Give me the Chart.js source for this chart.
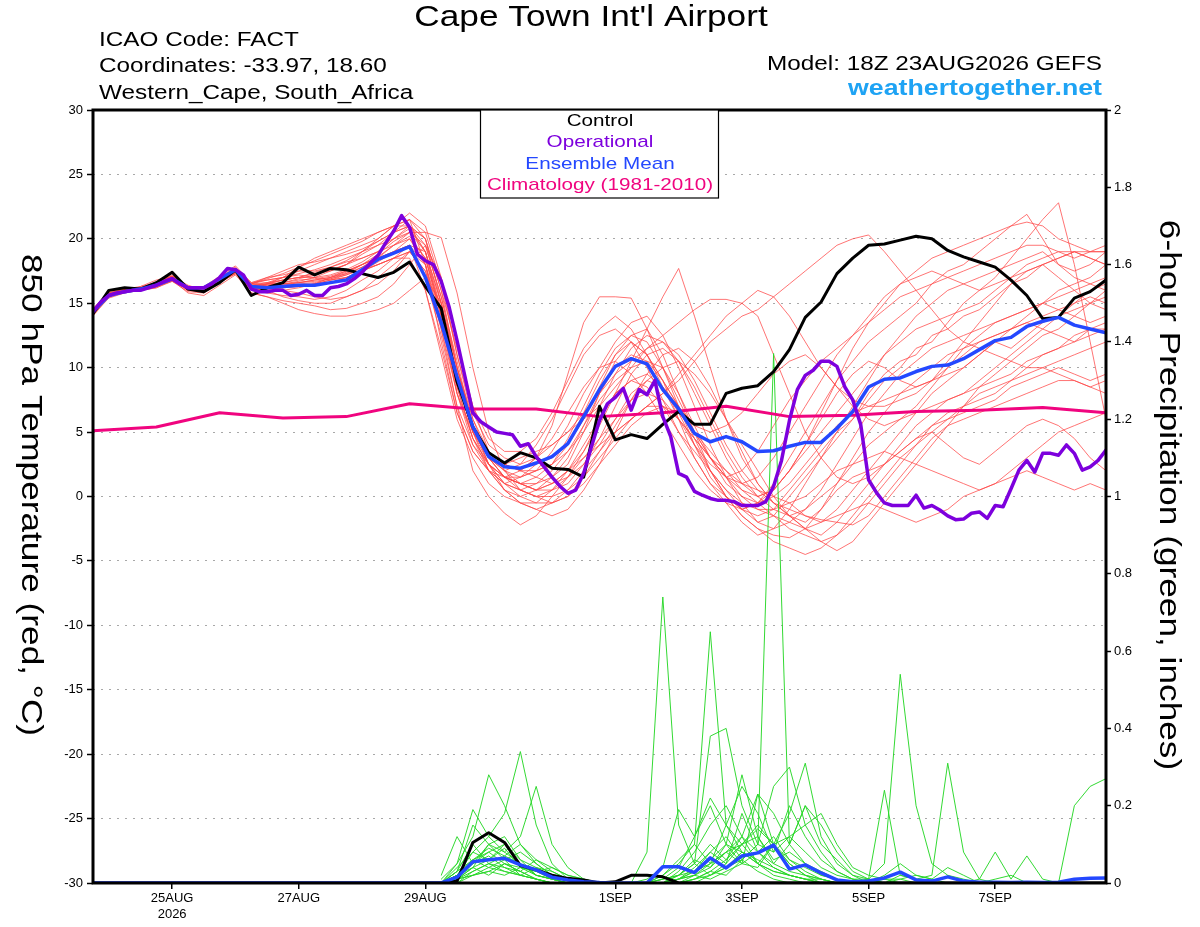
<!DOCTYPE html>
<html><head><meta charset="utf-8">
<script src="https://cdn.jsdelivr.net/npm/chart.js@4.4.1/dist/chart.umd.min.js"></script>
<style>html,body{margin:0;padding:0;background:#fff;} #wrap{width:1200px;height:927px;}</style>
</head><body><div id="wrap"><canvas id="c" width="1200" height="927"></canvas></div>
<script>
const FONT = "'Liberation Sans', Arial, Helvetica, sans-serif";
// x axis: hours after 18Z 23AUG2026
const tickHours = [30, 78, 126, 198, 246, 294, 342];
const tickLabels = ['25AUG', '27AUG', '29AUG', '1SEP', '3SEP', '5SEP', '7SEP'];
const tickYear = '2026';
const STEP6 = 6, STEP3 = 3, STEP24 = 24, PRECIP_START = 132;

// Control (black) 850 hPa temperature, 6-hourly
const controlTemp = [14.2,16.0,16.2,16.1,16.6,17.4,16.1,15.9,16.6,17.6,
 15.6,16.2,16.6,17.8,17.2,17.7,17.6,17.3,17.0,17.4,
 18.2,16.3,14.6,8.9,5.4,3.4,2.6,3.4,3.0,2.2,
 2.1,1.5,7.0,4.4,4.8,4.5,5.6,6.6,5.6,5.6,
 8.0,8.4,8.6,9.7,11.4,13.9,15.1,17.3,18.5,19.5,
 19.6,19.9,20.2,20.0,19.1,18.6,18.2,17.8,16.8,15.6,
 13.8,13.9,15.4,15.9,16.8];
// Ensemble mean (blue), 6-hourly
const meanTemp = [14.35,15.6,15.9,16.1,16.4,16.9,16.2,16.2,16.9,17.6,
 16.3,16.2,16.3,16.4,16.4,16.6,16.8,17.6,18.4,18.9,
 19.4,17.0,13.5,9.3,5.4,3.1,2.3,2.2,2.6,3.1,
 4.1,6.2,8.3,10.1,10.7,10.3,8.3,6.8,4.9,4.25,
 4.65,4.25,3.5,3.55,3.9,4.2,4.2,5.3,6.6,8.5,
 9.1,9.2,9.7,10.1,10.2,10.7,11.4,12.1,12.35,13.2,
 13.6,13.9,13.3,13.0,12.7];
// Operational (purple), 3-hourly
const opTemp = [14.35,15.1,15.6,15.8,15.9,16.0,16.0,16.2,16.4,16.7,
 16.9,16.5,16.2,16.2,16.2,16.5,17.0,17.7,17.6,17.2,
 16.1,15.9,15.9,16.0,16.0,15.6,15.7,16.0,15.6,15.6,
 16.2,16.3,16.5,16.9,17.4,18.1,18.7,19.7,20.6,21.8,
 20.9,18.8,18.3,18.0,16.7,14.7,12.1,9.3,6.5,5.8,
 5.4,5.0,4.9,4.8,3.9,4.1,3.1,2.3,1.5,0.8,
 0.25,0.5,1.8,3.9,5.9,7.2,7.7,8.4,6.7,8.3,
 7.9,9.0,6.2,4.65,1.8,1.5,0.4,0.1,-0.15,-0.3,
 -0.3,-0.4,-0.7,-0.7,-0.7,-0.4,0.8,2.8,5.9,8.3,
 9.4,9.8,10.5,10.5,10.1,8.5,7.5,5.6,1.3,0.3,
 -0.5,-0.7,-0.7,-0.7,0.1,-0.9,-0.7,-1.05,-1.5,-1.8,
 -1.75,-1.3,-1.2,-1.7,-0.7,-0.8,0.6,2.05,2.8,1.9,
 3.35,3.35,3.2,4.0,3.35,2.05,2.3,2.8,3.6];
// Climatology 1981-2010 (pink), daily
const climTemp = [5.1,5.4,6.5,6.1,6.2,7.2,6.8,6.8,6.2,6.5,7.0,6.2,6.3,6.6,6.7,6.9,6.5];

// Ensemble members (red), 6-hourly
const m01 = [14.0,15.5,16.0,16.2,16.6,17.2,16.3,15.8,16.6,17.4, 16.0,16.5,17.0,17.5,18.0,18.5,19.0,19.5,20.0,21.0, 22.0,21.0,17.0,11.0,6.0,3.0,1.5,1.0,0.5,1.5, 2.5,5.0,8.0,10.5,12.0,11.0,9.0,6.0,3.0,1.0, 0.0,-1.0,-1.5,-1.0,0.5,2.0,3.5,5.0,6.0,7.5, 9.0,10.0,11.5,12.0,13.5,15.0,16.0,17.0,18.5,20.0, 21.5,22.8,18.0,12.0,6.0];
const m02 = [14.5,15.8,16.1,16.0,16.3,16.8,15.8,15.6,16.4,17.2, 15.8,15.5,15.2,15.0,14.8,14.5,14.6,15.0,15.5,16.5, 18.0,19.5,17.0,12.0,7.0,3.5,2.5,2.0,3.0,5.5, 9.5,13.5,15.5,15.5,15.4,13.0,10.0,7.0,4.0,2.0, 0.5,-1.0,-2.0,-1.5,0.0,1.5,3.0,4.5,6.0,8.0, 9.5,10.5,11.0,12.5,13.0,14.0,14.5,15.5,16.5,17.0, 18.0,18.5,19.0,18.5,18.0];
const m03 = [14.2,15.6,15.9,16.2,16.5,17.0,16.2,16.2,17.0,17.7, 16.3,16.5,16.8,17.0,17.3,17.5,18.0,18.8,19.5,20.5, 21.0,19.0,14.0,8.0,4.0,2.0,0.5,0.0,0.5,1.0, 2.0,3.5,5.5,8.0,10.5,13.0,15.5,17.7,14.0,10.0, 6.0,3.0,1.0,-0.5,-1.5,-2.5,-3.0,-2.0,-0.5,1.0, 2.5,4.0,5.5,6.5,7.5,8.0,9.0,10.0,11.0,12.0, 13.0,14.0,14.5,15.0,15.5];
const m04 = [14.4,15.7,16.0,16.0,16.4,16.9,16.0,16.1,16.9,17.6, 16.1,16.0,15.5,15.2,15.0,15.0,15.5,16.0,17.0,18.0, 19.0,18.0,13.0,7.0,2.0,0.0,-1.3,-2.2,-1.5,0.0, 1.5,3.0,4.5,6.0,7.5,8.0,7.5,6.0,4.5,3.0, 2.0,1.0,0.5,0.0,-0.5,-1.5,-2.0,-1.0,0.5,2.0, 3.5,5.0,6.5,8.0,9.0,10.0,11.0,12.0,11.5,12.5, 13.5,14.0,15.0,16.0,16.5];
const m05 = [14.1,15.4,15.8,16.3,16.8,17.1,16.4,16.0,16.7,17.3, 16.5,17.0,17.2,17.5,17.5,17.8,18.2,18.5,19.0,19.5, 20.5,20.5,20.1,15.8,10.0,5.0,2.0,0.5,0.0,-0.5, 0.0,1.5,3.5,5.5,7.5,9.0,10.0,10.5,9.5,8.0, 6.0,4.0,2.0,0.0,-1.5,-2.5,-3.5,-4.2,-3.5,-2.0, -0.5,1.0,2.5,4.0,5.5,7.0,8.5,9.5,10.5,11.5, 12.5,13.0,14.0,15.0,16.0];
const m06 = [14.3,15.6,16.0,16.1,16.3,16.7,16.1,16.3,17.1,17.9, 16.6,16.8,17.0,17.2,17.0,16.8,17.0,17.5,18.0,18.5, 19.0,17.5,13.0,8.0,5.0,3.0,2.5,3.0,3.5,4.0, 5.0,6.0,7.0,8.5,10.0,11.5,12.5,13.5,14.5,15.3, 15.3,15.0,14.0,11.0,8.0,5.0,3.0,1.5,1.0,1.5, 2.5,3.5,4.5,5.5,6.5,7.0,7.5,8.0,9.0,10.0, 11.0,11.5,12.0,13.0,13.5];
const m07 = [14.6,15.9,16.2,16.0,16.2,16.8,16.0,15.9,16.8,17.6, 16.4,16.6,17.0,17.8,18.5,19.0,19.5,20.0,20.5,21.0, 21.5,18.0,12.0,6.5,3.5,2.0,1.0,1.5,2.5,3.0, 4.0,6.0,8.5,11.0,12.5,13.0,11.0,8.0,5.0,2.0, 0.0,-1.0,-0.5,1.0,3.0,5.0,7.0,9.0,10.5,12.0, 13.0,14.0,15.0,16.5,17.5,18.0,19.0,20.0,21.0,21.9, 20.0,18.0,17.0,16.5,16.0];
const m08 = [14.2,15.6,16.0,16.1,16.5,17.0,16.2,16.0,16.6,17.3, 16.2,16.0,16.0,15.8,15.5,15.3,15.5,16.0,16.5,17.5, 19.0,18.5,14.0,9.0,5.0,3.5,2.0,1.0,0.5,0.5, 1.0,2.5,4.0,6.0,8.0,9.0,8.5,7.0,5.0,3.0, 1.5,0.0,-1.0,-1.5,-2.0,-2.5,-2.0,-1.5,-1.0,-0.5, -1.0,-1.5,-2.0,-1.5,-1.0,0.0,0.5,1.0,1.5,2.0, 1.5,1.0,0.5,1.0,0.5];
const m09 = [14.3,15.7,15.9,16.2,16.6,17.1,16.3,16.0,16.7,17.5, 16.3,16.4,16.5,16.7,17.0,17.5,18.0,19.0,20.0,21.0, 21.5,20.0,15.0,9.0,5.0,3.0,2.0,2.5,4.0,6.0, 8.5,11.0,12.5,13.0,12.0,10.0,7.5,5.0,3.0,1.0, -0.5,-2.0,-3.0,-2.5,-1.0,1.0,3.0,5.0,7.0,9.0, 11.0,12.5,14.0,15.0,16.0,16.5,17.0,17.5,18.0,18.5, 19.0,18.0,17.5,18.0,19.0];
const m10 = [14.4,15.5,15.8,16.0,16.4,16.9,16.1,16.2,16.9,17.6, 16.3,16.3,16.5,16.6,16.8,17.0,17.3,17.8,18.5,19.5, 20.0,18.5,14.5,9.5,5.5,3.0,1.5,1.0,1.0,1.5, 3.0,5.5,7.5,9.0,10.0,10.5,10.0,8.0,5.5,3.0, 1.0,0.0,-0.5,0.0,1.0,2.5,4.0,5.5,6.5,7.0, 7.5,8.0,8.5,9.0,9.5,10.0,11.0,12.0,13.0,14.0, 15.0,16.0,16.5,17.0,18.0];
const m11 = [14.3,15.6,16.1,16.1,16.4,16.9,16.2,16.1,16.8,17.6, 16.4,16.3,16.0,16.2,16.5,17.0,17.5,18.0,18.5,19.0, 19.5,16.0,11.0,6.0,3.0,1.0,0.0,-0.5,-0.5,0.5, 2.0,4.0,6.0,8.0,9.0,9.5,8.5,6.5,4.0,1.5, 0.0,-1.5,-2.5,-3.5,-4.0,-4.5,-4.0,-3.0,-1.5,0.0, 1.5,3.0,4.0,5.0,6.0,7.0,8.0,8.5,9.0,9.5, 10.0,10.5,11.0,11.5,12.0];
const m12 = [14.5,15.7,16.0,16.2,16.5,17.0,16.1,16.0,16.9,17.7, 16.2,16.4,16.6,16.9,17.2,17.6,18.0,18.5,19.0,20.0, 20.5,19.0,15.0,10.0,6.0,3.5,2.5,2.0,2.0,2.5, 3.5,5.0,7.0,9.5,11.5,12.5,12.0,10.5,8.0,5.5, 3.0,1.0,0.0,0.5,2.0,4.0,6.5,9.0,11.5,13.5, 15.0,16.5,17.5,18.5,19.0,19.5,20.0,20.5,21.0,21.3, 21.0,20.0,19.5,19.0,19.0];
const m13 = [14.2,15.5,15.9,16.0,16.3,16.8,16.0,15.9,16.7,17.4, 16.1,16.2,16.4,16.4,16.5,16.8,17.2,17.8,18.5,19.0, 19.5,17.0,12.5,7.0,4.0,2.5,1.5,1.5,2.0,2.5, 4.0,6.5,9.0,11.0,12.0,11.0,9.0,7.0,5.5,5.0, 5.5,6.5,8.0,9.5,10.5,11.0,10.0,8.5,7.0,6.0, 5.5,6.0,7.0,8.5,10.0,11.5,12.5,13.5,14.0,14.5, 15.0,14.5,14.0,13.5,14.0];
const m14 = [14.4,15.8,16.1,16.1,16.4,16.9,16.1,16.1,16.9,17.5, 16.3,16.2,16.3,16.5,16.6,16.9,17.3,18.0,18.8,19.8, 20.5,19.5,15.5,10.5,5.5,2.5,0.5,-0.5,-1.0,-0.5, 0.5,2.0,3.5,5.0,6.0,7.0,8.0,9.0,10.5,12.0, 13.0,14.0,14.5,15.5,16.5,17.5,18.5,19.5,20.0,20.3, 19.0,17.5,16.0,14.5,13.0,12.0,11.5,11.0,10.5,10.0, 10.0,9.5,9.0,8.5,8.0];
const m15 = [14.3,15.6,16.0,16.0,16.3,16.8,16.2,16.2,16.8,17.5, 16.4,16.5,16.6,16.8,16.9,17.1,17.5,18.0,18.5,19.0, 19.5,18.0,14.0,9.0,5.5,3.5,2.5,2.0,1.5,1.0, 1.5,2.5,4.5,7.0,9.5,11.0,11.5,10.5,8.5,6.0, 3.5,1.5,0.0,-1.0,-1.5,-1.0,0.0,1.0,2.5,4.0, 5.0,6.0,6.5,7.0,7.5,8.0,8.5,9.0,9.5,10.5, 11.0,11.5,12.5,13.0,13.0];
const m16 = [14.5,15.7,16.1,16.3,16.6,17.0,16.3,16.1,16.7,17.4, 16.1,16.0,16.2,16.3,16.5,16.8,17.0,17.5,18.0,18.5, 19.0,17.5,13.5,8.5,4.5,2.0,1.0,0.5,0.0,0.5, 1.5,3.5,6.0,8.0,9.0,8.5,7.0,5.0,3.5,2.0, 0.5,-0.5,-1.0,-1.0,-0.5,0.0,1.0,2.0,2.5,3.0, 3.5,3.0,2.5,2.0,1.5,1.0,0.5,1.0,2.0,3.0, 4.0,5.0,5.5,6.0,6.5];
const m17 = [14.1,15.5,15.9,16.1,16.5,17.1,16.2,16.0,16.8,17.6, 16.5,16.8,17.0,17.3,17.6,18.0,18.5,19.0,19.5,20.0, 20.8,19.0,14.5,9.0,5.0,2.5,1.5,1.0,1.5,2.5, 4.5,7.0,9.5,11.5,12.5,12.0,10.0,7.5,5.0,3.0, 1.5,1.0,1.5,3.0,5.0,7.0,9.0,11.0,12.5,14.0, 15.5,16.5,17.0,17.5,17.0,16.5,16.0,16.5,17.0,17.5, 18.0,18.5,19.0,18.5,18.0];
const m18 = [14.3,15.6,15.9,16.0,16.2,16.7,15.9,15.8,16.6,17.3, 15.8,15.5,15.0,14.5,14.2,14.0,14.0,14.2,14.5,15.0, 16.0,17.0,15.0,10.0,5.5,2.5,1.0,0.0,-0.5,-0.5, 0.0,1.0,2.5,4.0,5.5,6.5,7.0,6.5,5.0,3.5, 2.0,0.5,-0.5,-1.5,-2.5,-3.0,-3.5,-3.0,-2.0,-0.5, 1.0,2.5,4.0,5.5,6.0,6.5,7.0,7.5,8.5,9.0, 9.5,10.0,9.5,9.0,9.5];
const m19 = [14.4,15.8,16.1,16.1,16.4,16.9,16.1,16.2,17.0,17.8, 16.5,16.6,16.8,17.0,17.0,17.2,17.6,18.2,19.0,20.0, 21.0,20.0,16.0,10.0,5.5,3.0,2.0,1.5,2.0,3.5, 5.5,8.0,10.0,12.0,13.5,14.0,12.5,10.0,7.0,4.0, 1.5,-0.5,-2.0,-2.5,-2.0,-1.0,0.5,2.5,4.5,6.5, 8.0,9.5,10.5,11.5,12.0,12.5,13.0,13.5,14.0,14.5, 15.0,15.5,16.0,16.5,17.0];
const m20 = [14.2,15.6,16.0,16.2,16.6,17.1,16.3,16.1,16.8,17.5, 16.3,16.5,16.8,17.0,17.4,17.8,18.3,19.0,19.8,20.5, 21.5,20.5,16.5,11.0,6.5,4.0,3.0,2.5,3.0,4.5, 6.5,8.5,10.0,10.5,9.5,8.0,6.0,4.0,2.0,0.5, -0.5,-1.0,-0.5,0.5,2.0,3.5,5.0,6.5,8.0,9.5, 11.0,12.0,13.0,13.5,14.0,14.5,15.0,16.0,17.0,18.0, 18.5,19.0,19.0,19.0,19.0];
const m21 = [14.3,15.7,16.0,16.1,16.4,16.9,16.0,16.0,16.8,17.5, 16.0,15.8,15.6,15.5,15.3,15.5,16.0,16.8,17.5,18.5, 19.5,19.0,15.0,9.5,5.0,2.0,0.5,-0.5,-1.0,-1.5, -1.0,0.5,2.5,5.0,7.5,9.5,11.0,11.5,10.5,8.5, 6.0,3.5,1.0,-0.5,-1.5,-2.0,-1.0,0.5,1.5,2.0, 2.5,3.5,4.5,5.0,4.0,3.0,2.5,3.5,4.5,5.5, 6.0,5.5,4.5,3.0,2.0];
const m22 = [14.4,15.6,15.9,16.2,16.5,17.0,16.2,16.1,16.9,17.6, 16.6,17.0,17.5,18.0,18.2,18.5,18.8,19.2,19.8,20.5, 21.0,20.0,16.0,11.5,7.0,4.5,3.5,3.5,4.5,6.5, 9.0,11.5,13.0,14.0,13.0,11.0,8.5,6.0,4.0,2.5, 1.5,2.0,3.5,5.5,7.5,9.0,10.5,11.5,12.5,13.5, 14.5,15.5,16.0,16.5,17.0,17.5,18.0,18.5,19.0,19.5, 19.5,19.0,18.5,19.0,19.5];
const m23 = [14.2,15.5,16.0,16.0,16.3,16.8,16.1,16.0,16.7,17.4, 16.2,16.1,16.2,16.3,16.5,16.6,17.0,17.5,18.2,19.0, 20.0,18.0,13.5,8.0,4.5,2.5,1.5,1.0,0.5,1.0, 2.0,3.0,4.0,5.0,6.0,7.0,7.0,6.0,4.5,3.0, 1.5,0.5,0.0,0.5,2.0,4.0,6.0,8.0,9.5,10.5, 10.0,9.0,8.5,9.0,10.0,11.0,12.0,12.5,13.0,13.5, 13.0,12.5,12.0,12.5,13.0];
const m24 = [14.3,15.7,16.1,16.1,16.5,17.0,16.2,16.2,16.9,17.7, 16.5,16.9,17.3,17.8,18.3,18.8,19.3,19.8,20.5,21.0, 21.0,19.5,15.5,10.0,5.5,3.0,1.5,0.5,0.0,0.0, 0.5,1.5,3.0,4.5,6.0,7.0,8.0,9.5,11.0,12.5, 14.0,15.0,16.0,15.5,14.0,12.0,10.0,8.5,7.5,7.0, 7.0,7.5,8.0,9.0,10.5,12.0,13.5,15.0,16.5,17.5, 18.0,17.0,16.0,15.0,14.5];
const m25 = [14.5,15.6,16.0,16.1,16.4,16.9,16.2,16.0,16.7,17.4, 16.2,16.3,16.4,16.6,16.8,17.0,17.4,18.0,18.6,19.5, 20.2,18.5,14.0,8.5,4.5,2.5,1.0,0.5,1.0,2.0, 3.5,5.5,8.0,10.0,11.0,10.5,9.0,7.0,4.5,2.0, 0.0,-1.5,-2.5,-3.0,-3.2,-2.5,-1.0,1.0,3.0,5.0, 6.5,8.0,9.0,10.0,11.0,11.5,12.0,12.5,13.0,13.5, 14.0,14.5,15.0,15.5,15.0];
const m26 = [14.2,15.6,15.9,16.2,16.6,17.1,16.3,16.1,16.8,17.5, 16.4,16.5,16.5,16.6,16.7,16.9,17.2,17.6,18.0,18.5, 18.5,16.0,11.5,6.5,3.5,2.0,1.5,2.0,3.0,4.0, 5.0,6.5,8.0,9.5,10.5,11.5,12.0,11.0,9.0,6.5, 4.0,2.0,0.5,-0.5,-1.0,-1.5,-1.8,-2.0,-2.2,-1.5, 0.0,1.5,3.0,4.5,5.5,6.0,6.5,7.0,7.5,8.0, 8.5,9.0,9.0,8.5,9.0];
const members = [m01,m02,m03,m04,m05,m06,m07,m08,m09,m10,m11,m12,m13,m14,m15,m16,m17,m18,m19,m20,m21,m22,m23,m24,m25,m26];

// 6-hour precipitation (inches), control and mean, 6-hourly from hour 0
const controlPrecip = [0,0,0,0,0,0,0,0,0,0, 0,0,0,0,0,0,0,0,0,0, 0,0,0,0.005,0.105,0.13,0.105,0.045,0.034,0.02, 0.012,0.008,0,0.003,0.02,0.02,0.016,0,0,0, 0,0,0,0,0,0,0,0,0,0, 0,0,0,0,0,0,0,0,0,0, 0,0,0,0,0];
const meanPrecip = [0,0,0,0,0,0,0,0,0,0, 0,0,0,0,0,0,0,0,0,0, 0,0,0,0.015,0.055,0.06,0.064,0.047,0.034,0.015, 0.008,0.003,0.001,0,0,0,0.042,0.042,0.027,0.065, 0.039,0.07,0.078,0.098,0.036,0.047,0.026,0.008,0.003,0.005, 0.013,0.028,0.008,0.005,0.016,0.005,0.002,0.002,0.001,0.002, 0.001,0.002,0.01,0.012,0.013];
// member precipitation (green), 6-hourly from hour 132
const g01 = [0,0.02,0.08,0.12,0.18,0.34,0.15,0.05,0.01,0, 0,0,0,0,0.02,0.06,0.1,0.05,0.08,0.12, 0.05,0.02,0.01,0,0,0,0,0,0,0.01, 0,0,0,0,0,0,0,0,0,0, 0,0,0];
const g02 = [0,0.05,0.12,0.28,0.2,0.1,0.06,0.03,0.01,0, 0,0,0,0,0,0.03,0.08,0.15,0.2,0.12, 0.08,0.04,0.02,0.01,0,0,0,0.01,0,0, 0,0,0,0,0,0,0,0,0,0, 0,0,0];
const g03 = [0,0.01,0.04,0.1,0.08,0.12,0.25,0.1,0.04,0.01, 0,0,0,0,0.01,0.04,0.12,0.2,0.1,0.05, 0.23,0.1,0.05,0.02,0,0,0,0,0,0, 0,0,0,0,0,0,0,0,0,0, 0,0,0];
const g04 = [0.01,0.05,0.19,0.12,0.08,0.05,0.03,0.01,0,0, 0,0,0,0.08,0.74,0.15,0.05,0.02,0.04,0.06, 0.03,0.01,0,0,0,0,0,0,0,0, 0,0,0,0,0,0,0,0,0,0, 0,0,0];
const g05 = [0.02,0.12,0.05,0.1,0.06,0.02,0.01,0,0,0, 0,0,0,0,0.02,0.05,0.1,0.65,0.15,0.1, 0.05,0.03,0.02,0.01,0,0,0,0,0,0, 0,0,0,0,0,0,0,0,0,0, 0,0,0];
const g06 = [0,0.01,0.04,0.06,0.1,0.05,0.02,0.01,0,0, 0,0,0,0,0,0.02,0.05,0.38,0.4,0.2, 0.1,1.37,0.1,0.2,0.15,0.08,0.03,0.01,0,0, 0,0,0,0,0,0,0,0,0,0, 0,0,0];
const g07 = [0,0,0.03,0.05,0.04,0.02,0.01,0,0,0, 0,0,0,0,0,0.01,0.03,0.06,0.1,0.08, 0.05,0.1,0.12,0.08,0.04,0.02,0.01,0.01,0.05,0.54, 0.2,0.05,0.02,0.01,0,0,0,0,0,0, 0,0,0];
const g08 = [0,0.02,0.06,0.08,0.05,0.03,0.01,0,0,0, 0,0,0,0,0.01,0.02,0.05,0.1,0.06,0.12, 0.23,0.18,0.1,0.05,0.02,0.01,0,0.01,0.24,0.02, 0.01,0.02,0.31,0.08,0.01,0,0,0,0,0, 0,0,0];
const g09 = [0,0.03,0.1,0.05,0.03,0.02,0.01,0,0,0, 0,0,0,0,0,0,0.01,0.02,0.05,0.1, 0.15,0.1,0.05,0.02,0.01,0,0,0,0,0, 0,0,0,0,0,0.01,0.02,0,0,0, 0.2,0.25,0.27];
const g10 = [0,0.01,0.05,0.08,0.1,0.06,0.04,0.02,0.01,0, 0,0,0,0,0,0.01,0.04,0.08,0.12,0.06, 0.1,0.25,0.3,0.15,0.08,0.03,0.01,0,0,0.02, 0.01,0,0,0,0.01,0.08,0.01,0.07,0.01,0, 0,0,0];
const g11 = [0,0.03,0.15,0.1,0.12,0.06,0.02,0.01,0,0, 0,0,0,0,0,0.02,0.06,0.04,0.08,0.05, 0.04,0.1,0.18,0.31,0.12,0.05,0.02,0,0,0, 0,0,0,0,0,0,0,0,0,0, 0,0,0];
const g12 = [0,0.01,0.02,0.04,0.06,0.08,0.05,0.02,0.01,0, 0,0,0,0.01,0.04,0.19,0.12,0.22,0.15,0.08, 0.06,0.04,0.02,0.01,0,0,0,0,0,0, 0,0,0,0,0,0,0,0,0,0, 0,0,0];
const g13 = [0,0.04,0.08,0.06,0.09,0.04,0.02,0.01,0,0, 0,0,0,0,0,0,0.02,0.05,0.15,0.25, 0.18,0.08,0.12,0.15,0.18,0.1,0.04,0.02,0.01,0, 0,0,0,0,0,0,0,0,0,0, 0,0,0];
const g14 = [0,0.02,0.04,0.02,0.05,0.03,0.01,0,0,0, 0,0,0,0,0,0.01,0.03,0.08,0.05,0.18, 0.08,0.05,0.1,0.2,0.1,0.06,0.02,0.01,0,0, 0,0,0,0,0,0,0,0,0,0, 0,0,0];
const g15 = [0,0.01,0.02,0.03,0.02,0.04,0.03,0.02,0.01,0, 0,0,0,0,0,0,0.01,0.03,0.06,0.1, 0.12,0.06,0.08,0.05,0.03,0.01,0,0,0.02,0.05, 0.02,0.01,0.04,0.02,0,0,0,0,0,0, 0,0,0];
const g16 = [0,0.02,0.06,0.04,0.03,0.02,0.04,0.03,0.01,0, 0,0,0,0,0,0.01,0.02,0.01,0.03,0.05, 0.08,0.12,0.06,0.03,0.01,0,0,0,0,0, 0,0,0,0,0,0,0,0,0,0, 0,0,0];
const g17 = [0,0.01,0.03,0.05,0.07,0.1,0.05,0.02,0.01,0, 0,0,0,0,0,0.01,0.02,0.04,0.1,0.28, 0.12,0.05,0.03,0.02,0.01,0,0,0,0,0, 0,0,0,0,0,0,0,0,0,0, 0,0,0];
const g18 = [0,0.02,0.05,0.07,0.04,0.03,0.06,0.04,0.02,0.01, 0,0,0,0,0,0,0.01,0.03,0.02,0.06, 0.1,0.08,0.2,0.12,0.06,0.03,0.01,0,0,0, 0,0,0,0,0,0,0,0,0,0, 0,0,0];
const g19 = [0,0,0.02,0.03,0.05,0.04,0.03,0.04,0.02,0.01, 0,0,0,0,0,0,0,0.02,0.04,0.08, 0.05,0.03,0.02,0.01,0.01,0,0,0,0.01,0.01, 0.02,0.01,0,0,0,0,0,0,0,0, 0,0,0];
const g20 = [0,0.03,0.06,0.09,0.07,0.05,0.02,0.01,0,0, 0,0,0,0,0.01,0.02,0.03,0.05,0.08,0.1, 0.14,0.1,0.06,0.04,0.02,0.01,0,0,0,0, 0,0,0,0,0,0,0,0,0,0, 0,0,0];
const precipMembers = [g01,g02,g03,g04,g05,g06,g07,g08,g09,g10,g11,g12,g13,g14,g15,g16,g17,g18,g19,g20];

function series(vals, step, start) {
  return vals.map((v, i) => ({ x: (start || 0) + i * step, y: v }));
}
function line(data, color, width, axis, order) {
  return { data, borderColor: color, borderWidth: width, yAxisID: axis, order,
    pointRadius: 0, fill: false, tension: 0, borderJoinStyle: 'round', borderCapStyle: 'round' };
}

const datasets = [];
members.forEach(m => datasets.push(line(series(m, STEP6), 'rgba(255,70,70,0.75)', 1, 'y', 20)));
precipMembers.forEach(m => datasets.push(line(series(m, STEP6, PRECIP_START), 'rgba(40,215,40,0.95)', 1, 'y2', 19)));
datasets.push(line(series(controlPrecip, STEP6), '#000000', 3, 'y2', 8));
datasets.push(line(series(meanPrecip, STEP6), '#2448ff', 3.5, 'y2', 7));
datasets.push(line(series(climTemp, STEP24), '#f0047f', 3, 'y', 5));
datasets.push(line(series(controlTemp, STEP6), '#000000', 3, 'y', 4));
datasets.push(line(series(meanTemp, STEP6), '#2448ff', 3.5, 'y', 3));
datasets.push(line(series(opTemp, STEP3), '#7d00dd', 3.5, 'y', 2));

const SX = 1.215; // horizontal stretch of the header/legend lettering
function txt(c, s, x, y, align, rot) {
  c.save(); c.translate(x, y); if (rot) c.rotate(rot); c.scale(SX, 1);
  c.textAlign = align; c.fillText(s, 0, 0); c.restore();
}

const decor = {
  id: 'decor',
  beforeDraw(chart) {
    const c = chart.ctx;
    c.save(); c.fillStyle = '#fff'; c.fillRect(0, 0, chart.width, chart.height); c.restore();
  },
  afterDraw(chart) {
    const c = chart.ctx, a = chart.chartArea;
    c.save();
    c.strokeStyle = '#000'; c.lineWidth = 3;
    c.strokeRect(a.left, a.top, a.right - a.left, a.bottom - a.top);
    c.fillStyle = '#000'; c.textBaseline = 'middle';
    c.font = '29px ' + FONT;
    txt(c, "Cape Town Int'l Airport", 591, 18, 'center');
    c.font = '20px ' + FONT;
    txt(c, 'ICAO Code: FACT', 99, 40, 'left');
    txt(c, 'Coordinates: -33.97, 18.60', 99, 66, 'left');
    txt(c, 'Western_Cape, South_Africa', 99, 93, 'left');
    txt(c, 'Model: 18Z 23AUG2026 GEFS', 1102, 64, 'right');
    c.font = 'bold 22px ' + FONT; c.fillStyle = '#1ea3f4';
    txt(c, 'weathertogether.net', 1102, 89, 'right');
    // legend box
    c.fillStyle = '#fff'; c.fillRect(480, a.top, 239, 88);
    c.strokeStyle = '#000'; c.lineWidth = 1.2;
    c.strokeRect(480.5, a.top, 238, 88);
    c.font = '17px ' + FONT;
    const leg = [['Control', '#000000'], ['Operational', '#7d00dd'], ['Ensemble Mean', '#2448ff'], ['Climatology (1981-2010)', '#f0047f']];
    leg.forEach((l, i) => { c.fillStyle = l[1]; txt(c, l[0], 600, 121 + i * 21.5, 'center'); });
    // axis titles (rotated clockwise)
    c.fillStyle = '#000'; c.font = '29px ' + FONT;
    txt(c, '850 hPa Temperature (red, \u00B0C)', 30, 495, 'center', Math.PI / 2);
    txt(c, '6-hour Precipitation (green, inches)', 1168, 495, 'center', Math.PI / 2);
    c.restore();
  }
};

new Chart(document.getElementById('c'), {
  type: 'line',
  data: { datasets },
  plugins: [decor],
  options: {
    responsive: false, animation: false, devicePixelRatio: 1,
    layout: { padding: { top: 110, left: 0, right: 0, bottom: 0 }, autoPadding: false },
    plugins: { legend: { display: false }, tooltip: { enabled: false }, title: { display: false } },
    scales: {
      x: {
        type: 'linear', min: 0, max: 384,
        afterBuildTicks: s => { s.ticks = tickHours.map(v => ({ value: v })); },
        afterFit: s => { s.height = 44; },
        ticks: {
          autoSkip: false, maxRotation: 0, color: '#000', padding: 2,
          font: { size: 13, family: FONT },
          callback: v => { const k = tickHours.indexOf(v); return k === 0 ? [tickLabels[0], tickYear] : tickLabels[k]; }
        },
        grid: { drawOnChartArea: false, color: '#000', tickColor: '#000', tickLength: 6, lineWidth: 1.5 },
        border: { display: false }
      },
      y: {
        position: 'left', min: -30, max: 30,
        afterFit: s => { s.width = 93; },
        ticks: { stepSize: 5, color: '#000', padding: 4, font: { size: 13, family: FONT } },
        grid: { color: '#a8a8a8', lineWidth: 1, tickColor: '#000', tickLength: 6, tickWidth: 1.5, tickBorderDash: [10, 0] },
        border: { display: false, dash: [2, 6] }
      },
      y2: {
        position: 'right', min: 0, max: 2,
        afterFit: s => { s.width = 94; },
        ticks: { stepSize: 0.2, color: '#000', padding: 3, font: { size: 13, family: FONT },
          callback: v => String(Math.round(v * 10) / 10) },
        grid: { drawOnChartArea: false, tickColor: '#000', tickLength: 5, tickWidth: 1.5 },
        border: { display: false }
      }
    }
  }
});
</script></body></html>
